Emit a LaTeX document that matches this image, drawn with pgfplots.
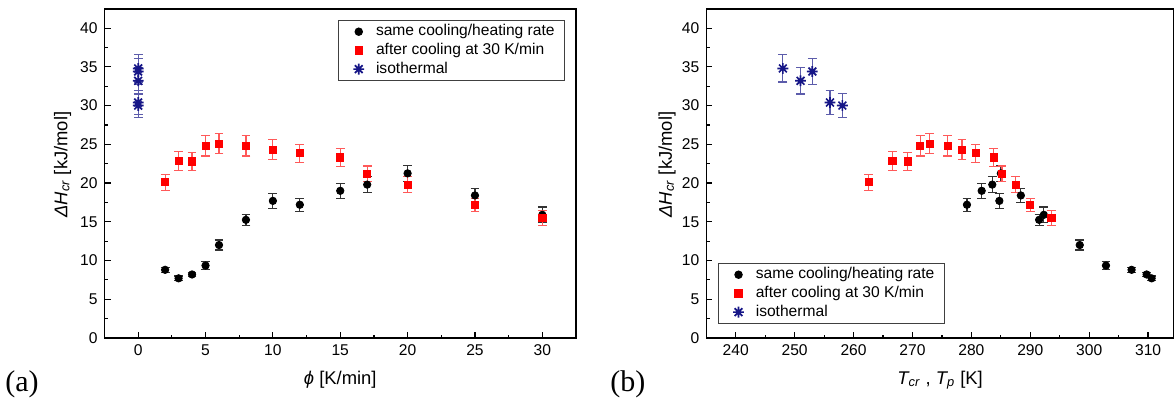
\documentclass[border=0pt]{standalone}
\usepackage{fontspec}
\setmainfont{Liberation Sans}
\newfontfamily\timesfont{Liberation Serif}
\usepackage{pgfplots}
\pgfplotsset{compat=1.18}
\usepackage{pgfplotstable}

\definecolor{navyb}{RGB}{22,22,135}
\definecolor{redm}{RGB}{255,0,0}

\pgfdeclareplotmark{ast8}{%
  \pgfpathmoveto{\pgfqpoint{0pt}{\pgfplotmarksize}}%
  \pgfpathlineto{\pgfqpoint{0pt}{-\pgfplotmarksize}}%
  \pgfpathmoveto{\pgfqpoint{\pgfplotmarksize}{0pt}}%
  \pgfpathlineto{\pgfqpoint{-\pgfplotmarksize}{0pt}}%
  \pgfpathmoveto{\pgfqpoint{0.72\pgfplotmarksize}{0.72\pgfplotmarksize}}%
  \pgfpathlineto{\pgfqpoint{-0.72\pgfplotmarksize}{-0.72\pgfplotmarksize}}%
  \pgfpathmoveto{\pgfqpoint{-0.72\pgfplotmarksize}{0.72\pgfplotmarksize}}%
  \pgfpathlineto{\pgfqpoint{0.72\pgfplotmarksize}{-0.72\pgfplotmarksize}}%
  \pgfusepathqstroke}

\pgfplotstableread{
phi T y e
2 307.2 8.8 0.3
3 310.6 7.7 0.3
4 309.75 8.2 0.3
5 302.85 9.35 0.5
6 298.4 12.0 0.65
8 291.5 15.25 0.7
10 284.75 17.7 0.95
12 279.25 17.2 0.85
15 281.75 19.0 0.95
17 283.55 19.8 1.0
20 285.0 21.25 1.05
25 288.4 18.4 0.9
30 292.3 15.9 1.0
}\blackdata

\pgfplotstableread{
phi T y e
2 262.6 20.1 1.05
3 266.6 22.85 1.2
4 269.2 22.8 1.15
5 271.3 24.8 1.3
6 272.9 25.1 1.3
8 276.0 24.8 1.3
10 278.4 24.3 1.3
12 280.7 23.85 1.15
15 283.8 23.3 1.15
17 285.2 21.2 1.0
20 287.5 19.8 1.0
25 290.0 17.2 0.85
30 293.6 15.5 0.95
}\reddata

\pgfplotstableread{
phi T y e
0 248.0 34.8 1.75
0 251.0 33.2 1.7
0 253.0 34.4 1.7
0 256.0 30.4 1.5
0 258.1 30.0 1.55
}\bluedata

\pgfplotsset{
  myax/.style={
    scale only axis, height=164.5pt,
    ymin=0, ymax=42.47, ytick={0,5,...,40}, minor y tick num=1,
    tick align=inside, tick pos=left,
    major tick length=3pt, minor tick length=1.6pt,
    axis line style={line width=0.7pt},
    every tick/.style={black, line width=0.6pt},
    tick label style={font=\fontsize{7.8}{9}\selectfont},
    /pgf/number format/assume math mode=true,
    label style={font=\fontsize{9.2}{11}\selectfont},
    ylabel={{\itshape ΔH}\textsubscript{\itshape cr} [kJ/mol]},
    legend cell align=left,
    legend style={draw=black!75, line width=0.5pt, font=\fontsize{7.8}{9}\selectfont,
      inner xsep=3pt, inner ysep=1pt, row sep=0pt,
      nodes={inner ysep=1.1pt}},
    legend image code/.code={%
      \path (-6.6pt,0pt) (6.2pt,0pt);
      \draw[mark repeat=2,mark phase=2,#1] plot coordinates {(-0.1pt,0pt) (0pt,0pt) (0.1pt,0pt)};},
  },
  blk/.style={only marks, mark=*, mark size=1.85pt, black,
    error bars/.cd, y dir=both, y explicit,
    error bar style={black!80, line width=0.6pt},
    error mark options={rotate=90, mark size=2.2pt, black!80, line width=0.6pt}},
  rd/.style={only marks, mark=square*, mark size=1.8pt, redm,
    error bars/.cd, y dir=both, y explicit,
    error bar style={red!65!white, line width=0.6pt},
    error mark options={rotate=90, mark size=2.2pt, red!65!white, line width=0.6pt}},
  bl/.style={only marks, mark=ast8, mark size=2.7pt, navyb, line width=0.85pt,
    error bars/.cd, y dir=both, y explicit,
    error bar style={navyb!70!white, line width=0.6pt},
    error mark options={rotate=90, mark size=2.2pt, navyb!70!white, line width=0.6pt}},
}

\begin{document}
\begin{tikzpicture}
\useasboundingbox (0,0) rectangle (587pt,200pt);
\begin{axis}[myax, at={(52.25pt,31pt)}, anchor=south west, width=235.75pt,
  xmin=-2.5, xmax=32.5, xtick={0,5,...,30}, minor x tick num=1,
  xlabel={\textit{ϕ} [K/min]},
  xlabel style={at={(axis description cs:0.5,-0.128)}, anchor=center},
  ylabel style={at={(axis description cs:-0.089,0.527)}, anchor=center},
  legend style={at={(0.977,0.967)}, anchor=north east}]
\addplot[blk] table[x=phi, y=y, y error=e]{\blackdata};
\addlegendentry{same cooling/heating rate}
\addplot[rd] table[x=phi, y=y, y error=e]{\reddata};
\addlegendentry{after cooling at 30 K/min}
\addplot[bl] table[x=phi, y=y, y error=e]{\bluedata};
\addlegendentry{isothermal}
\end{axis}
\begin{axis}[myax, at={(353.15pt,31pt)}, anchor=south west, width=233.85pt,
  xmin=235, xmax=314.4, xtick={240,250,...,310}, minor x tick num=1,
  xlabel={{\itshape T}\textsubscript{\itshape cr} , {\itshape T}\textsubscript{\itshape p} [K]},
  xlabel style={at={(axis description cs:0.5,-0.128)}, anchor=center},
  ylabel style={at={(axis description cs:-0.084,0.527)}, anchor=center},
  legend style={at={(0.025,0.0426)}, anchor=south west}]
\addplot[blk] table[x=T, y=y, y error=e]{\blackdata};
\addlegendentry{same cooling/heating rate}
\addplot[rd] table[x=T, y=y, y error=e]{\reddata};
\addlegendentry{after cooling at 30 K/min}
\addplot[bl] table[x=T, y=y, y error=e]{\bluedata};
\addlegendentry{isothermal}
\end{axis}
\node[font=\timesfont\fontsize{15}{17}\selectfont, anchor=west, inner sep=0pt] at (2.5pt,8pt) {(a)};
\node[font=\timesfont\fontsize{15}{17}\selectfont, anchor=west, inner sep=0pt] at (305pt,8pt) {(b)};
\end{tikzpicture}
\end{document}
